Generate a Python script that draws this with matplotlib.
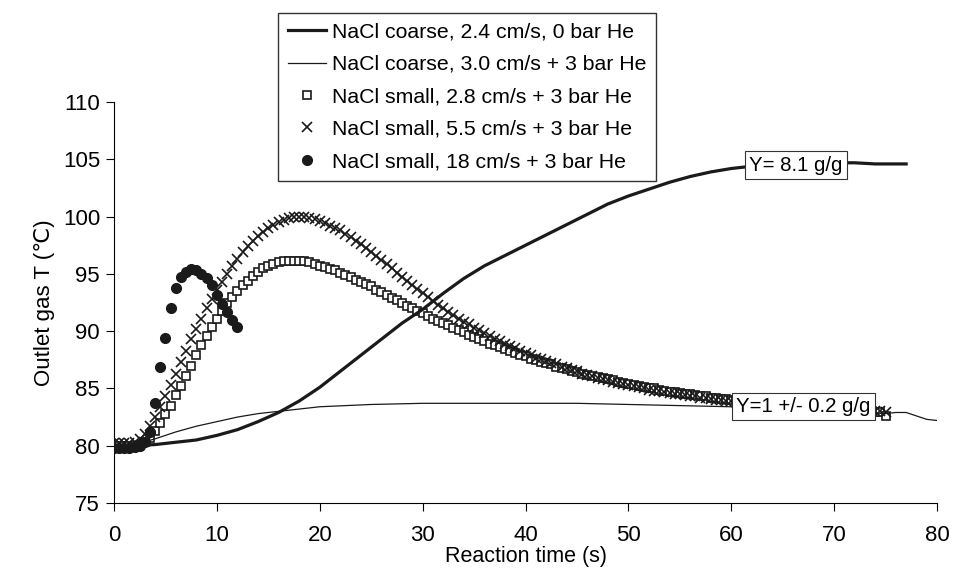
import numpy as np
import matplotlib
matplotlib.use('Agg')
import matplotlib.pyplot as plt

plt.rcParams['font.family'] = ['Liberation Sans', 'DejaVu Sans']

# coarse NaCl, 2.4 cm/s, 0 bar He (thick line)
t_coarse1 = [0, 2, 4, 6, 8, 10, 12, 14, 16, 18, 20, 22, 24, 26, 28, 30, 32, 34, 36, 38,
             40, 42, 44, 46, 48, 50, 52, 54, 56, 58, 60, 62, 64, 66, 68, 70, 72, 74, 77]
T_coarse1 = [80.0, 80.0, 80.1, 80.3, 80.5, 80.9, 81.4, 82.1, 82.9, 83.9, 85.1, 86.5, 87.9, 89.3,
             90.7, 91.9, 93.3, 94.6, 95.7, 96.6, 97.5, 98.4, 99.3, 100.2, 101.1, 101.8, 102.4,
             103.0, 103.5, 103.9, 104.2, 104.4, 104.5, 104.6, 104.7, 104.7, 104.7, 104.6, 104.6]

# coarse NaCl, 3.0 cm/s + 3 bar He (thin line)
t_coarse2 = [0, 2, 4, 6, 8, 10, 12, 14, 16, 18, 20, 25, 30, 35, 40, 45, 50, 55, 60, 65,
             70, 73, 75, 76, 77, 78, 79, 80]
T_coarse2 = [80.0, 80.1, 80.6, 81.2, 81.7, 82.1, 82.5, 82.8, 83.0, 83.2, 83.4, 83.6, 83.7, 83.7,
             83.7, 83.7, 83.6, 83.5, 83.4, 83.3, 83.1, 82.9, 82.8, 82.9, 82.9, 82.6, 82.3, 82.2]

# small NaCl runs, sampled every 0.5 s
t_small = np.arange(0, 75.5, 0.5)
T_small28 = [80.0, 80.0, 80.0, 80.0, 80.0, 80.1, 80.3, 80.7, 81.3, 82.0,
             82.8, 83.5, 84.4, 85.2, 86.1, 87.0, 87.9, 88.8, 89.6, 90.4,
             91.1, 91.8, 92.5, 93.0, 93.5, 94.0, 94.4, 94.8, 95.2, 95.5,
             95.7, 95.9, 96.0, 96.1, 96.1, 96.1, 96.1, 96.1, 96.0, 95.9,
             95.7, 95.6, 95.4, 95.3, 95.1, 94.9, 94.7, 94.5, 94.3, 94.1,
             93.9, 93.6, 93.4, 93.2, 92.9, 92.7, 92.5, 92.2, 92.0, 91.8,
             91.6, 91.3, 91.1, 90.9, 90.7, 90.5, 90.3, 90.1, 89.9, 89.7,
             89.5, 89.3, 89.1, 88.9, 88.8, 88.6, 88.4, 88.3, 88.1, 87.9,
             87.8, 87.6, 87.5, 87.3, 87.2, 87.1, 86.9, 86.8, 86.7, 86.5,
             86.4, 86.3, 86.2, 86.1, 86.0, 85.9, 85.8, 85.7, 85.6, 85.5,
             85.4, 85.3, 85.2, 85.1, 85.0, 85.0, 84.9, 84.8, 84.7, 84.7,
             84.6, 84.5, 84.5, 84.4, 84.3, 84.3, 84.2, 84.2, 84.1, 84.1,
             84.0, 84.0, 83.9, 83.9, 83.8, 83.8, 83.7, 83.7, 83.6, 83.6,
             83.5, 83.5, 83.4, 83.4, 83.4, 83.3, 83.3, 83.3, 83.2, 83.2,
             83.2, 83.1, 83.1, 83.1, 83.0, 83.0, 83.0, 82.9, 82.9, 82.9,
             82.6]
T_small55 = [80.2, 80.2, 80.2, 80.2, 80.3, 80.6, 81.0, 81.7, 82.5, 83.4,
             84.3, 85.3, 86.3, 87.3, 88.3, 89.3, 90.2, 91.1, 92.0, 92.8,
             93.6, 94.3, 95.0, 95.7, 96.3, 96.9, 97.4, 97.9, 98.3, 98.7,
             99.0, 99.3, 99.5, 99.7, 99.9, 100.0, 100.0, 100.0, 99.9, 99.8,
             99.6, 99.4, 99.2, 99.0, 98.8, 98.5, 98.2, 97.9, 97.6, 97.3,
             96.9, 96.6, 96.2, 95.9, 95.5, 95.1, 94.7, 94.4, 94.0, 93.7,
             93.3, 93.0, 92.6, 92.3, 92.0, 91.7, 91.4, 91.1, 90.8, 90.6,
             90.3, 90.1, 89.8, 89.6, 89.3, 89.1, 88.9, 88.7, 88.5, 88.3,
             88.1, 87.9, 87.7, 87.6, 87.4, 87.2, 87.1, 86.9, 86.8, 86.6,
             86.5, 86.3, 86.2, 86.1, 85.9, 85.8, 85.7, 85.6, 85.5, 85.4,
             85.3, 85.2, 85.1, 85.0, 84.9, 84.8, 84.8, 84.7, 84.6, 84.5,
             84.5, 84.4, 84.3, 84.3, 84.2, 84.2, 84.1, 84.0, 84.0, 83.9,
             83.9, 83.8, 83.8, 83.8, 83.7, 83.7, 83.6, 83.6, 83.6, 83.5,
             83.5, 83.5, 83.4, 83.4, 83.4, 83.3, 83.3, 83.3, 83.2, 83.2,
             83.2, 83.2, 83.1, 83.1, 83.1, 83.1, 83.0, 83.0, 83.0, 83.0,
             82.9]
t_small18 = np.arange(0, 12.5, 0.5)
T_small18 = [79.8, 79.8, 79.8, 79.8, 79.9, 80.0, 80.3, 81.2, 83.7, 86.9,
             89.4, 92.0, 93.8, 94.7, 95.2, 95.4, 95.3, 95.0, 94.6, 94.0,
             93.2, 92.4, 91.7, 91.0, 90.4]

labels = ['NaCl coarse, 2.4 cm/s, 0 bar He',
          'NaCl coarse, 3.0 cm/s + 3 bar He',
          'NaCl small, 2.8 cm/s + 3 bar He',
          'NaCl small, 5.5 cm/s + 3 bar He',
          'NaCl small, 18 cm/s + 3 bar He']

fig = plt.figure(figsize=(9.54, 5.81), dpi=100)
ax = fig.add_axes([0.1195, 0.1343, 0.8627, 0.690])

k = '#1a1a1a'
ax.plot(t_coarse1, T_coarse1, color=k, lw=2.3, label=labels[0], zorder=4)
ax.plot(t_coarse2, T_coarse2, color=k, lw=0.9, label=labels[1], zorder=4)
ax.plot(t_small, T_small28, ls='none', marker='s', ms=5.5, mfc='white', mec=k, mew=1.2,
        label=labels[2], zorder=3)
ax.plot(t_small, T_small55, ls='none', marker='x', ms=6.5, mec=k, mew=1.2,
        label=labels[3], zorder=3)
ax.plot(t_small18, T_small18, ls='none', marker='o', ms=7, mfc=k, mec=k,
        label=labels[4], zorder=5)

ax.text(66.3, 104.5, 'Y= 8.1 g/g', fontsize=14.7, ha='center', va='center', zorder=6,
        bbox=dict(boxstyle='square,pad=0.2', fc='white', ec='#333333', lw=0.8))
ax.text(67.0, 83.4, 'Y=1 +/- 0.2 g/g', fontsize=14.7, ha='center', va='center', zorder=6,
        bbox=dict(boxstyle='square,pad=0.2', fc='white', ec='#333333', lw=0.8))

ax.set_xlim(0, 80)
ax.set_ylim(75, 110)
ax.set_xticks(range(0, 81, 10))
ax.set_yticks(range(75, 111, 5))
ax.spines['top'].set_visible(False)
ax.spines['right'].set_visible(False)
ax.tick_params(axis='y', direction='out', length=6, labelsize=16, pad=4)
ax.tick_params(axis='x', direction='out', length=6, labelsize=16, pad=10)
ax.set_xlabel('Reaction time (s)', fontsize=15.5, labelpad=0)
ax.set_ylabel('Outlet gas T (\u2103)', fontsize=16, labelpad=6)

leg = fig.legend(loc='upper left', bbox_to_anchor=(0.2914, 0.9776), bbox_transform=fig.transFigure,
                 fontsize=15.3, fancybox=False, edgecolor='#333333', framealpha=1,
                 handlelength=1.8, handletextpad=0.3, labelspacing=0.63, borderpad=0.45,
                 borderaxespad=0)
leg.get_frame().set_linewidth(1.0)

fig.savefig('out.png', dpi=100)
